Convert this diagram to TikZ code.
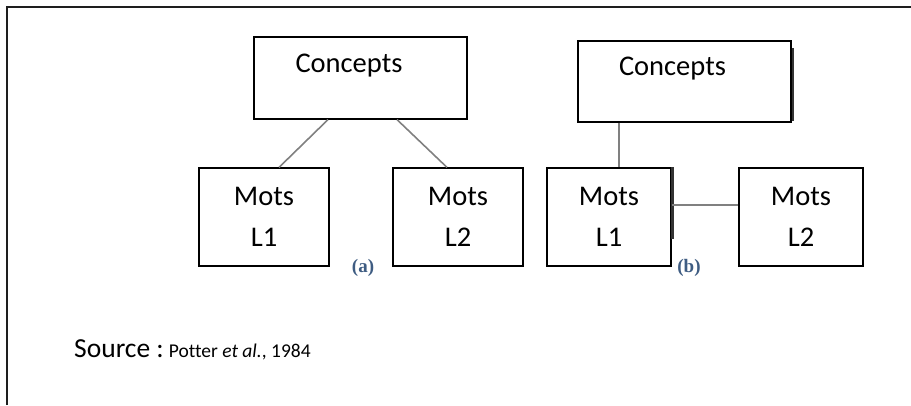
\documentclass[tikz,border=0pt]{standalone}
\usepackage{fontspec}
\setmainfont{Carlito}[Ligatures=NoCommon]
\newfontfamily\labfont{Liberation Serif}
\definecolor{linkgray}{RGB}{128,128,128}
\definecolor{labblue}{RGB}{62,92,130}
\definecolor{framegray}{RGB}{30,30,30}
\begin{document}
\begin{tikzpicture}[x=1pt,y=-1pt,
  box/.style={draw=black, line width=1.2pt, inner sep=0pt, fill=none},
  txt/.style={inner sep=0pt, font=\fontsize{28.5}{41}\selectfont, align=center},
  link/.style={draw=linkgray, line width=1.6pt},
  sublabel/.style={inner sep=0pt, text=labblue, font=\labfont\bfseries\fontsize{19}{21}\selectfont},
  shade/.style={draw=black!80, line width=2.2pt}]
\useasboundingbox (0,0) rectangle (911,405);
% outer frame (left and top)
\draw[framegray, line width=2.4pt] (7,405) -- (7,7) -- (911,7);
% (a)
\node[box, minimum width=213pt, minimum height=82pt] (ca) at (360.5,78) {};
\node[txt] (cat) at (349,66) {Concepts};
\node[box, txt, minimum width=130pt, minimum height=98pt] (m1a) at (264,217) {Mots\\L1};
\node[box, txt, minimum width=130pt, minimum height=98pt] (m2a) at (458,217) {Mots\\L2};
\draw[link] ([xshift=-32.5pt]ca.south) -- ([xshift=15pt]m1a.north);
\draw[link] ([xshift=36.5pt]ca.south) -- ([xshift=-11pt]m2a.north);
\node[sublabel] (la) at (363,268) {(a)};
% (b)
\node[box, minimum width=213pt, minimum height=81pt] (cb) at (684.5,81.5) {};
\node[txt] (cbt) at (672.5,69) {Concepts};
\node[box, txt, minimum width=124pt, minimum height=98pt] (m1b) at (609,217) {Mots\\L1};
\node[box, txt, minimum width=124pt, minimum height=98pt] (m2b) at (801,217) {Mots\\L2};
\draw[shade] ([xshift=1.5pt,yshift=-8pt]cb.north east) -- ([xshift=1.5pt,yshift=2pt]cb.south east);
\draw[shade] ([xshift=0.8pt]m1b.north east) -- ([xshift=0.8pt,yshift=28pt]m1b.south east);
\draw[link] ([xshift=-65.5pt]cb.south) -- ([xshift=10pt]m1b.north);
\draw[link] ([yshift=12pt]m1b.east) -- ([yshift=12pt]m2b.west);
\node[sublabel] (lb) at (689,268) {(b)};
% source
\node[inner sep=0pt, anchor=base west] (src) at (74,357)
  {\fontsize{27.5}{30}\selectfont Source :\hspace{5pt}\fontsize{19.5}{24}\selectfont Potter \textit{et al.}, 1984};
\end{tikzpicture}
\end{document}
